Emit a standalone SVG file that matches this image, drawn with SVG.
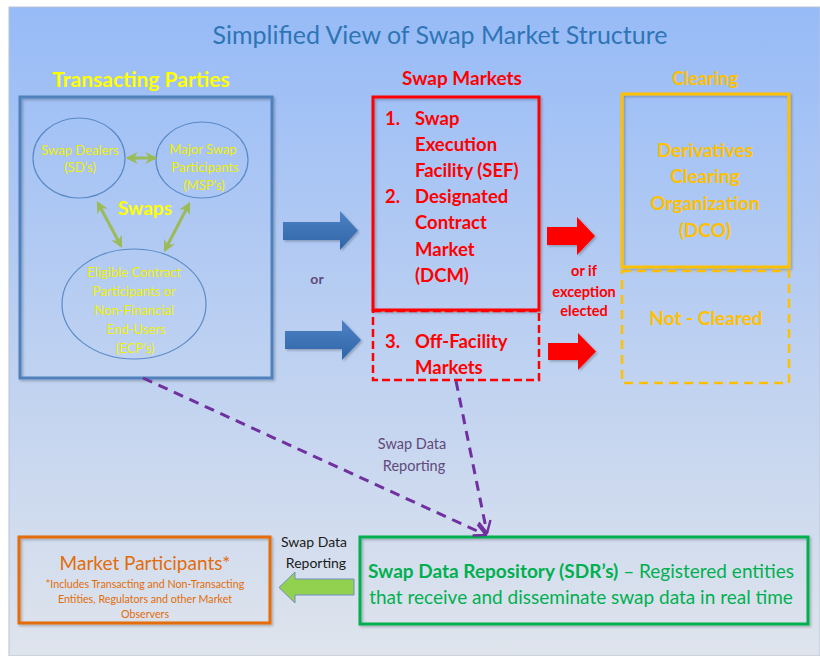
<svg xmlns="http://www.w3.org/2000/svg" width="820" height="656" viewBox="0 0 820 656">
<defs>
<linearGradient id="bg" x1="0" y1="0" x2="0" y2="1">
<stop offset="0" stop-color="#97bbf7"/>
<stop offset="1" stop-color="#dfe4ec"/>
</linearGradient>
<linearGradient id="blueArrow" x1="0" y1="0" x2="0" y2="1">
<stop offset="0" stop-color="#4d82c4"/>
<stop offset="1" stop-color="#2f65a8"/>
</linearGradient>
<marker id="gArrow" viewBox="0 0 10 10" refX="8" refY="5" markerWidth="4" markerHeight="4" orient="auto-start-reverse">
<path d="M0,0 L10,5 L0,10 L3,5 Z" fill="#9bbb59"/>
</marker>
<marker id="pArrow" viewBox="0 0 10 10" refX="9" refY="5" markerWidth="5" markerHeight="5" orient="auto">
<path d="M1,1 L9,5 L1,9" fill="none" stroke="#7030a0" stroke-width="1.6"/>
</marker>
<filter id="sh" x="-5%" y="-5%" width="110%" height="110%">
<feDropShadow dx="1.5" dy="1.5" stdDeviation="1.2" flood-color="#000" flood-opacity="0.25"/>
</filter>
</defs>
<style>
text{font-family:Lato,"Liberation Sans",sans-serif}
.ell{fill:none;stroke:#5a8ac6;stroke-width:1.2}
.yl{fill:#f0f000;font-size:13px;text-anchor:middle}
.red{fill:#ff0000;font-size:18.5px;font-weight:bold}
.dco{fill:#ffc000;font-size:19px;font-weight:bold;text-anchor:middle}
.pur{fill:#604a7b;font-size:14.5px;text-anchor:middle}
.purl{fill:none;stroke:#7030a0;stroke-width:3;stroke-dasharray:10 7}
.grn{stroke:#9bbb59;stroke-width:3;fill:none}
.exc{fill:#ff0000;font-size:14.5px;font-weight:bold;text-anchor:middle}
.mp{fill:#e36c09;font-size:10.7px;text-anchor:middle}
</style>
<rect x="0" y="0" width="820" height="656" fill="#ffffff"/>
<rect x="9" y="7" width="811" height="649" fill="url(#bg)" stroke="#b8c4d4" stroke-width="1"/>

<text x="440" y="44" text-anchor="middle" font-size="25" fill="#2e75b6">Simplified View of Swap Market Structure</text>

<g id="transacting-parties">
<text x="141" y="87" text-anchor="middle" font-size="21" font-weight="bold" fill="#ffff00">Transacting Parties</text>
<rect x="20" y="97" width="252" height="281" fill="none" stroke="#4f81bd" stroke-width="3" filter="url(#sh)"/>
</g>
<g id="swap-dealers">
<ellipse class="ell" cx="79" cy="158" rx="46" ry="40"/>
<text class="yl" x="80" y="155">Swap Dealers</text>
<text class="yl" x="80" y="172">(SD’s)</text>
</g>
<g id="major-swap-participants">
<ellipse class="ell" cx="202" cy="160" rx="46" ry="38"/>
<text class="yl" x="203" y="154">Major Swap</text>
<text class="yl" x="205" y="172">Participants</text>
<text class="yl" x="204" y="190">(MSP’s)</text>
</g>
<g id="ecp">
<ellipse class="ell" cx="134" cy="304" rx="72" ry="55"/>
<text class="yl" x="134" y="277">Eligible Contract</text>
<text class="yl" x="134" y="296">Participants or</text>
<text class="yl" x="134" y="315">Non-Financial</text>
<text class="yl" x="136" y="334">End-Users</text>
<text class="yl" x="135" y="353">(ECP’s)</text>
</g>
<text x="145" y="215" text-anchor="middle" font-size="19" font-weight="bold" fill="#ffff00">Swaps</text>

<g id="swap-execution">
<text x="462" y="85" text-anchor="middle" font-size="19" font-weight="bold" fill="#ff0000">Swap Markets</text>
<rect x="373" y="97" width="166" height="213" fill="none" stroke="#ff0000" stroke-width="3" filter="url(#sh)"/>
<text class="red" x="385" y="125">1.</text>
<text class="red" x="415" y="125">Swap</text>
<text class="red" x="415" y="151">Execution</text>
<text class="red" x="415" y="177">Facility (SEF)</text>
<text class="red" x="385" y="203">2.</text>
<text class="red" x="415" y="203">Designated</text>
<text class="red" x="415" y="229">Contract</text>
<text class="red" x="415" y="256">Market</text>
<text class="red" x="415" y="282">(DCM)</text>
</g>
<g id="off-facility">
<rect x="373" y="311" width="166" height="69" fill="none" stroke="#ff0000" stroke-width="2.5" stroke-dasharray="8 4"/>
<text class="red" x="385" y="348">3.</text>
<text class="red" x="415" y="348">Off-Facility</text>
<text class="red" x="415" y="374">Markets</text>
</g>

<g id="dco">
<text x="705" y="85" text-anchor="middle" font-size="18" font-weight="bold" fill="#ffc000">Clearing</text>
<rect x="622" y="94" width="167" height="173" fill="none" stroke="#ffc000" stroke-width="3" filter="url(#sh)"/>
<text class="dco" x="705" y="157">Derivatives</text>
<text class="dco" x="705" y="183">Clearing</text>
<text class="dco" x="705" y="210">Organization</text>
<text class="dco" x="705" y="237">(DCO)</text>
</g>
<g id="not-cleared">
<rect x="622" y="271" width="167" height="112" fill="none" stroke="#ffc000" stroke-width="2.5" stroke-dasharray="9 6"/>
<text class="dco" x="706" y="325">Not - Cleared</text>
</g>

<g id="sdr">
<rect x="360" y="537" width="448" height="87" fill="none" stroke="#00b050" stroke-width="3" filter="url(#sh)"/>
<text x="581" y="578" text-anchor="middle" font-size="19" fill="#00b050"><tspan font-weight="bold">Swap Data Repository (SDR’s)</tspan> – Registered entities</text>
<text x="581" y="604" text-anchor="middle" font-size="19" fill="#00b050">that receive and disseminate swap data in real time</text>
</g>
<g id="market-participants">
<rect x="19" y="537" width="251" height="86" fill="none" stroke="#e36c09" stroke-width="3" filter="url(#sh)"/>
<text x="145" y="570" text-anchor="middle" font-size="19" fill="#e36c09">Market Participants*</text>
<text class="mp" x="145" y="588">*Includes Transacting and Non-Transacting</text>
<text class="mp" x="145" y="603">Entities, Regulators and other  Market</text>
<text class="mp" x="145" y="618">Observers</text>
</g>

<g id="connectors">
<line class="grn" x1="128" y1="158" x2="155" y2="158" marker-start="url(#gArrow)" marker-end="url(#gArrow)"/>
<line class="grn" x1="98" y1="203" x2="121" y2="246" marker-start="url(#gArrow)" marker-end="url(#gArrow)"/>
<line class="grn" x1="189" y1="204" x2="165" y2="250" marker-start="url(#gArrow)" marker-end="url(#gArrow)"/>

<path d="M283,222 H340 V211 L358,230.5 L340,250 V240 H283 Z" fill="url(#blueArrow)" filter="url(#sh)"/>
<path d="M285,331 H342 V320 L361,340 L342,360 V349 H285 Z" fill="url(#blueArrow)" filter="url(#sh)"/>
<text x="317" y="284" text-anchor="middle" font-size="14" font-weight="bold" fill="#604a7b">or</text>

<path d="M547,227 H577 V217 L595,236 L577,255 V245 H547 Z" fill="#ff0000" filter="url(#sh)"/>
<path d="M548,343 H578 V333 L596,351.5 L578,370 V360 H548 Z" fill="#ff0000" filter="url(#sh)"/>
<text class="exc" x="584" y="276">or if</text>
<text class="exc" x="584" y="297">exception</text>
<text class="exc" x="584" y="316">elected</text>

<line class="purl" x1="143" y1="378" x2="486" y2="535" marker-end="url(#pArrow)"/>
<line class="purl" x1="456" y1="381" x2="487" y2="533" marker-end="url(#pArrow)"/>
<text class="pur" x="412" y="449">Swap Data</text>
<text class="pur" x="414" y="471">Reporting</text>

<path d="M354,579 H295 V572 L279,587.5 L295,603 V595 H354 Z" fill="#92d050" stroke="#6e8ec0" stroke-width="1"/>
<text x="314" y="547" text-anchor="middle" font-size="14" fill="#1a1a1a">Swap Data</text>
<text x="316" y="568" text-anchor="middle" font-size="14" fill="#1a1a1a">Reporting</text>
</g>
</svg>
